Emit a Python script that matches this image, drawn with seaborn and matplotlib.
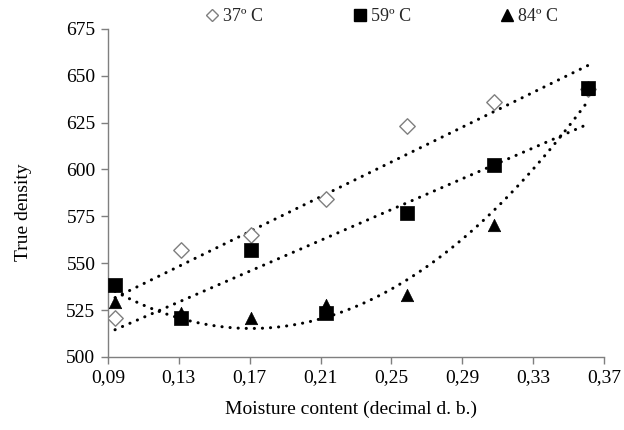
import numpy as np
import pandas as pd
import matplotlib
matplotlib.use("Agg")
import matplotlib.pyplot as plt
from matplotlib.lines import Line2D
import seaborn as sns

# ---- data ----
moisture = [0.094, 0.131, 0.171, 0.213, 0.259, 0.308, 0.361]
dens_37 = [521.0, 557.0, 565.0, 584.0, 623.0, 636.0, 643.0]
dens_59 = [538.5, 520.8, 557.0, 523.5, 577.0, 602.6, 643.2]
dens_84 = [529.4, 523.5, 520.8, 527.8, 533.1, 570.5, 642.8]
series_labels = ["37º C", "59º C", "84º C"]
x_ticks = [0.09, 0.13, 0.17, 0.21, 0.25, 0.29, 0.33, 0.37]
y_ticks = [500, 525, 550, 575, 600, 625, 650, 675]

sns.set_theme(style="white")
plt.rcParams["font.family"] = ["Liberation Serif", "DejaVu Serif"]

df = pd.DataFrame({"x": moisture, "t37": dens_37, "t59": dens_59, "t84": dens_84})

fig = plt.figure(figsize=(6.24, 4.30), dpi=100)
ax = fig.add_axes([0.173, 0.170, 0.795, 0.763])

dot = dict(color="black", linewidth=2.2, linestyle=(0, (0.05, 2.6)),
           dash_capstyle="round", solid_capstyle="round")

# trend lines
sns.regplot(data=df, x="x", y="t37", order=1, ci=None, scatter=False, ax=ax, line_kws=dot)
sns.regplot(data=df, x="x", y="t59", order=1, ci=None, scatter=False, ax=ax, line_kws=dot)
sns.regplot(data=df, x="x", y="t84", order=2, ci=None, scatter=False, ax=ax, line_kws=dot)

# markers
sns.scatterplot(data=df, x="x", y="t37", marker="D", s=62, facecolor="white",
                edgecolor="#7f7f7f", linewidth=1.0, ax=ax, zorder=3)
sns.scatterplot(data=df, x="x", y="t84", marker="^", s=80, color="black",
                edgecolor="black", linewidth=0.5, ax=ax, zorder=4)
sns.scatterplot(data=df, x="x", y="t59", marker="s", s=105, color="black",
                edgecolor="black", linewidth=0.5, ax=ax, zorder=5)

ax.set_xlim(0.09, 0.37)
ax.set_ylim(500, 675)
ax.set_xticks(x_ticks)
ax.set_xticklabels([f"{t:.2f}".replace(".", ",") for t in x_ticks])
ax.set_yticks(y_ticks)
ax.set_yticklabels([str(t) for t in y_ticks])

for side in ["top", "right"]:
    ax.spines[side].set_visible(False)
for side in ["left", "bottom"]:
    ax.spines[side].set_color("#7f7f7f")
    ax.spines[side].set_linewidth(1.0)

ax.tick_params(axis="both", which="major", direction="out", length=5, width=1.0,
               color="#7f7f7f", labelsize=14, labelcolor="black", pad=4)
ax.tick_params(axis="x", bottom=True)
ax.tick_params(axis="y", left=True)

ax.set_xlabel("Moisture content (decimal d. b.)", fontsize=14, color="black", va="center")
ax.set_ylabel("True density", fontsize=14, color="black", va="center")
ax.xaxis.set_label_coords(0.49, -0.16)
ax.yaxis.set_label_coords(-0.17, 0.44)

handles = [
    Line2D([], [], marker="D", linestyle="none", markersize=6.5, markerfacecolor="white",
           markeredgecolor="#7f7f7f", markeredgewidth=1.0),
    Line2D([], [], marker="s", linestyle="none", markersize=8.5, color="black"),
    Line2D([], [], marker="^", linestyle="none", markersize=8.5, color="black"),
]
fig.legend(handles, series_labels, loc="upper center", bbox_to_anchor=(0.61, 1.01),
           ncol=3, frameon=False, fontsize=13, handletextpad=0.1, columnspacing=4.85,
           handlelength=1.0, borderaxespad=0.3)

fig.savefig("out.png", dpi=100)
